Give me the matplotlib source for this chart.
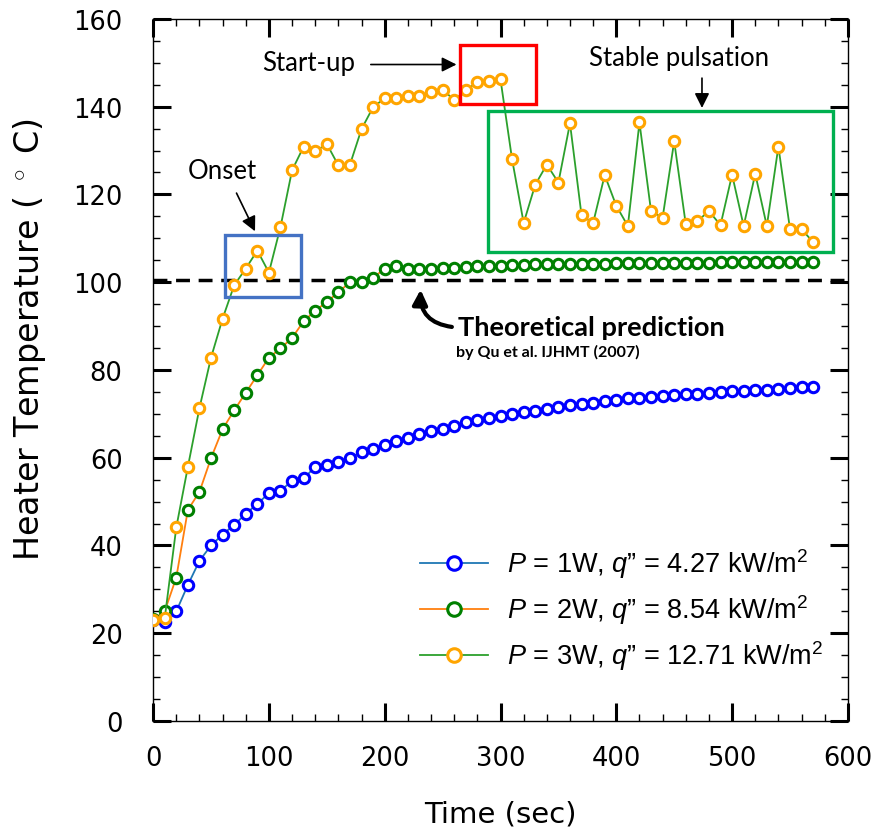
import numpy as np
import matplotlib.pyplot as plt
from matplotlib.patches import Rectangle
from matplotlib.ticker import MultipleLocator

# Data, one point every 10 s
time = np.arange(0, 580, 10)

temp_1w = [23.0, 22.6, 25.0, 31.0, 36.5, 40.0, 42.5, 44.7, 47.2, 49.5,
           51.9, 52.5, 54.7, 55.3, 57.9, 58.4, 59.1, 60.0, 61.2, 62.0,
           62.9, 63.7, 64.4, 65.4, 66.0, 66.6, 67.3, 68.1, 68.5, 69.0,
           69.4, 69.9, 70.4, 70.7, 71.1, 71.5, 72.0, 72.3, 72.5, 72.9,
           73.2, 73.5, 73.7, 73.9, 74.1, 74.3, 74.5, 74.6, 74.8, 74.9,
           75.1, 75.2, 75.4, 75.5, 75.7, 75.8, 76.0, 76.1]

temp_2w = [23.2, 25.0, 32.7, 48.1, 52.2, 59.9, 66.5, 70.8, 74.8, 78.8,
           82.8, 84.9, 87.3, 91.1, 93.5, 95.5, 97.7, 100.0, 100.1, 101.0,
           103.1, 103.6, 103.1, 103.1, 103.1, 103.3, 103.3, 103.5, 103.6, 103.8,
           103.8, 103.9, 104.0, 104.1, 104.1, 104.1, 104.2, 104.2, 104.2, 104.2,
           104.3, 104.3, 104.3, 104.3, 104.4, 104.4, 104.4, 104.4, 104.4, 104.5,
           104.5, 104.5, 104.5, 104.5, 104.5, 104.5, 104.5, 104.5]

temp_3w = [23.0, 23.4, 44.1, 57.9, 71.3, 82.8, 91.7, 99.3, 103.1, 107.2,
           102.2, 112.6, 125.5, 130.9, 129.8, 131.5, 126.6, 126.8, 134.9, 139.9,
           141.9, 142.0, 142.4, 142.5, 143.3, 143.9, 141.5, 143.7, 145.6, 145.9,
           146.2, 128.0, 113.5, 122.2, 126.8, 122.7, 136.2, 115.2, 113.5, 124.4,
           117.4, 112.8, 136.4, 116.2, 114.7, 132.1, 113.2, 113.9, 116.2, 113.0,
           124.5, 112.8, 124.7, 112.8, 130.9, 112.1, 112.1, 109.1]

labels = ['$P$ = 1W, $q$\u201d = 4.27 kW/m$^2$',
          '$P$ = 2W, $q$\u201d = 8.54 kW/m$^2$',
          '$P$ = 3W, $q$\u201d = 12.71 kW/m$^2$']
line_colors = ['tab:blue', 'tab:orange', 'tab:green']
marker_colors = ['blue', 'green', 'orange']

theory = 100.5

plt.rcParams['mathtext.fontset'] = 'custom'
plt.rcParams['mathtext.rm'] = 'Liberation Sans'
plt.rcParams['mathtext.it'] = 'Liberation Sans:italic'

fig = plt.figure(figsize=(8.75, 8.28), dpi=100)
ax = fig.add_axes([0.175, 0.128, 0.794, 0.848])

ax.axhline(theory, color='black', ls=(0, (4, 2.5)), lw=2.5, zorder=1)

for y, lab, lc, mc in zip([temp_1w, temp_2w, temp_3w], labels, line_colors, marker_colors):
    ax.plot(time, y, '-o', color=lc, lw=1.3, ms=7.5, mec=mc, mfc='white',
            mew=2.2, label=lab, zorder=3)

# boxes
ax.add_patch(Rectangle((62, 96.6), 66, 14.1, fill=False, ec='#4472C4', lw=2.4, zorder=4))
ax.add_patch(Rectangle((265, 140.5), 66, 13.6, fill=False, ec='red', lw=2.4, zorder=4))
ax.add_patch(Rectangle((289, 106.8), 298, 32.1, fill=False, ec='#00B050', lw=2.4, zorder=4))

# annotations
afont = dict(family='Lato', fontsize=18.5)
arrow = dict(arrowstyle='-|>', color='black', lw=1.2, mutation_scale=22, shrinkA=0, shrinkB=0)
ax.text(60, 125.5, 'Onset', ha='center', va='center', **afont)
ax.annotate('', xy=(88, 111.6), xytext=(72, 120.3), arrowprops=arrow)
ax.text(134, 150, 'Start-up', ha='center', va='center', **afont)
ax.annotate('', xy=(262, 149.6), xytext=(188, 149.6), arrowprops=arrow)
ax.text(454, 151.2, 'Stable pulsation', ha='center', va='center', **afont)
ax.annotate('', xy=(474, 139.7), xytext=(474, 146.5), arrowprops=arrow)
ax.annotate('', xy=(231, 98.3), xytext=(258, 89.8),
            arrowprops=dict(arrowstyle='-|>', color='black', lw=3, mutation_scale=22,
                            shrinkA=0, shrinkB=0, connectionstyle='arc3,rad=-0.45'))
ax.text(263, 89.8, 'Theoretical prediction', family='Lato', fontweight='bold',
        fontsize=19.6, ha='left', va='center')
ax.text(262, 84.1, 'by Qu et al. IJHMT (2007)', family='Lato', fontweight='bold',
        fontsize=11.5, ha='left', va='center')

ax.set_xlim(0, 600)
ax.set_ylim(0, 160)
ax.xaxis.set_major_locator(MultipleLocator(100))
ax.xaxis.set_minor_locator(MultipleLocator(20))
ax.yaxis.set_major_locator(MultipleLocator(20))
ax.yaxis.set_minor_locator(MultipleLocator(5))
ax.tick_params(which='both', direction='in', top=True, right=True, labelsize=18.5)
ax.tick_params(which='major', length=13, width=2.2, pad=17)
ax.tick_params(axis='y', which='major', pad=22)
ax.tick_params(which='minor', length=5, width=1)
for s in ax.spines.values():
    s.set_linewidth(1)

ax.set_xlabel('Time (sec)', fontsize=21, labelpad=21)
ax.set_ylabel('Heater Temperature ( $^\\circ$ C)', fontsize=24)
ax.yaxis.set_label_coords(-0.152, 0.544)

leg = ax.legend(loc='lower right', bbox_to_anchor=(1.0, 0.035), frameon=False,
                prop={'family': 'Liberation Sans', 'size': 19.5}, markerscale=1.3,
                handlelength=2.5, labelspacing=0.45, handletextpad=0.7)

fig.savefig('out.png', dpi=100)
